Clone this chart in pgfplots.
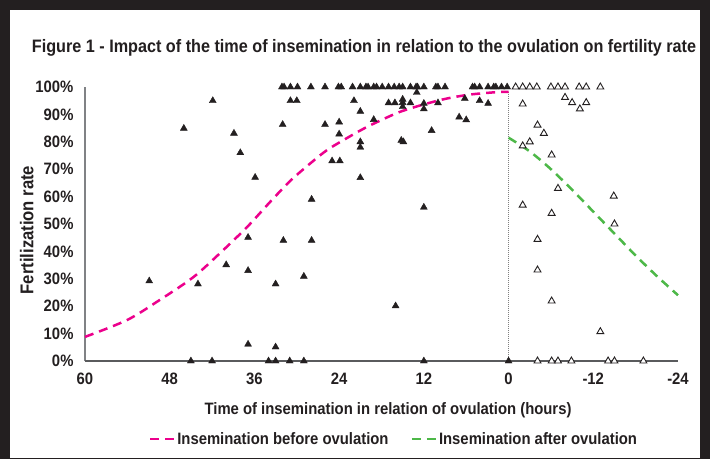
\documentclass[border=0pt]{standalone}
\usepackage{fontspec}
\setmainfont{Liberation Sans}[FakeStretch=0.9]
\usepackage{pgfplots}
\pgfplotsset{compat=1.18}
\definecolor{framec}{HTML}{231F20}
\definecolor{pinkc}{HTML}{EC008C}
\definecolor{greenc}{HTML}{4DB848}
\definecolor{axisgray}{HTML}{808285}

\begin{document}
\begin{tikzpicture}
\fill[framec] (0pt,0pt) rectangle (710pt,459pt);
\fill[white] (10pt,1pt) rectangle (700pt,449pt);
\node[font=\fontsize{18}{20}\selectfont\bfseries, text=framec] at (364pt,411pt)
  {Figure 1 - Impact of the time of insemination in relation to the ovulation on fertility rate};
\begin{axis}[
    at={(85pt,98pt)}, anchor=south west,
    scale only axis, width=593pt, height=274pt,
    xmin=-24, xmax=60, ymin=0, ymax=100,
    x dir=reverse,
    xtick={-24,-12,0,12,24,36,48,60},
    ytick={0,10,...,100},
    major tick length=0pt,
    axis line style={draw=none},
    clip=false,
    /pgf/number format/assume math mode=true,
    tick label style={font=\fontsize{16.5}{18}\selectfont\bfseries, text=framec},
    yticklabel={\pgfmathprintnumber{\tick}\%},
    xticklabel style={yshift=-8pt},
    yticklabel style={xshift=-8pt},
    xlabel={Time of insemination in relation of ovulation (hours)},
    ylabel={Fertilization rate},
    label style={font=\fontsize{16.5}{18}\selectfont\bfseries, text=framec},
    xlabel style={at={(axis description cs:0.511,-0.179)}, anchor=center},
    ylabel style={at={(axis description cs:-0.098,0.478)}, anchor=center,
        font=\fontsize{18.5}{20}\selectfont\bfseries},
    legend style={at={(axis description cs:0.521,-0.285)}, anchor=center,
        draw=none, fill=none, legend columns=2,
        font=\fontsize{16.5}{18}\selectfont\bfseries, text=framec,
        /tikz/every even column/.append style={column sep=20pt}},
    legend image code/.code={\draw[#1] (0pt,0pt) -- (24pt,0pt);},
]
% axis lines and reference line at ovulation
\draw[axisgray, line width=1.6pt] (axis cs:60,0) -- (axis cs:60,100);
\draw[axisgray!70!black, line width=1.3pt] (axis cs:60,0) -- (axis cs:-24,0);
\addplot[gray, densely dotted, line width=1pt, forget plot] coordinates {(0,0) (0,98.5)};

% fitted curves
\addplot[pinkc, line width=2.5pt, dash pattern=on 9pt off 6pt, smooth] coordinates {
    (60,8.8) (54,15) (49.4,22.3) (44.7,30.5) (40.9,39.3) (37,49) (33.8,58)
    (30.9,65.8) (28,72.3) (25.7,77) (23,81.2) (20,85.5) (16,90.3) (14,92.1)
    (11.8,93.8) (8.9,95.7) (5.6,97.2) (1.8,98.1) (0,98.2)
};
\addlegendentry{Insemination before ovulation}
\addplot[greenc, line width=2.5pt, dash pattern=on 9pt off 6pt, smooth] coordinates {
    (0,81.5) (-3,76.5) (-6,70) (-9,62.5) (-12,54.5) (-15,46.5) (-18,38.5) (-21,31) (-24,24)
};
\addlegendentry{Insemination after ovulation}

% inseminations before ovulation
\addplot[only marks, mark=triangle*, mark size=4pt,
    mark options={fill=framec, draw=framec}, forget plot] coordinates {
    (32.1,100) (31.8,100) (30.9,100) (29.9,100) (28.0,100) (26.0,100) (24.1,100)
    (23.7,100) (22.1,100) (21.0,100) (20.2,100) (19.9,100) (19.1,100) (18.7,100)
    (17.9,100) (17.0,100) (16.2,100) (15.5,100) (15.0,100) (13.9,100) (13.1,100)
    (12.9,100) (12.0,100) (10.3,100) (10.0,100) (9.0,100) (5.1,100) (4.8,100)
    (4.1,100) (2.9,100) (2.1,100) (1.8,100) (1.0,100) (0.2,100)
    (46.0,84.9) (41.9,95.0) (38.9,83.1) (38.0,76.0) (35.9,67.0)
    (50.9,29.2) (44.0,28.1) (40.0,35.1) (36.9,45.1) (36.9,33.0) (33.0,28.1)
    (36.9,6.1) (33.0,5.1)
    (27.9,59.0) (12.0,56.1) (31.9,44.0) (27.9,44.0) (29.0,30.9) (16.0,20.1)
    (21.0,80.0) (21.0,78.0) (15.2,80.5) (14.9,80.0) (25.0,73.0) (23.9,73.0) (21.0,66.9)
    (30.9,95.0) (30.0,95.0) (21.9,95.0) (17.0,94.2) (16.1,94.2) (15.0,95.5)
    (15.0,94.3) (15.0,92.8) (13.9,94.2) (13.0,98.0) (12.0,94.0) (12.0,92.0)
    (10.0,94.2) (6.2,95.8) (4.1,95.0) (2.9,94.0)
    (7.0,89.0) (6.0,88.0) (10.9,84.1)
    (21.0,91.1) (19.1,88.1) (32.0,86.3) (26.0,86.3) (24.0,87.2) (24.0,82.8)
    (45,0) (42,0) (34,0) (33,0) (31,0) (29,0) (12,0) (0,0)
};
% inseminations after ovulation
\addplot[only marks, mark=triangle*, mark size=4pt,
    mark options={fill=white, draw=framec, line width=0.9pt}, forget plot] coordinates {
    (-1,100) (-2,100) (-3,100) (-4,100) (-6,100) (-7,100) (-8,100) (-10,100) (-11,100) (-13,100)
    (-2,93.8) (-8,96.2) (-9,94.3) (-10.1,92) (-11,94.3)
    (-4.1,86.1) (-5,83.1) (-3,80) (-2,78.5) (-6.1,75.2) (-7,63) (-14.9,60.2)
    (-2,56.9) (-6.1,53.9) (-15,50) (-4.1,44.4) (-4.1,33.2) (-6.1,21.9) (-13,10.7)
    (-4.1,0) (-6.1,0) (-7,0) (-8.9,0) (-14.1,0) (-15,0) (-19.1,0)
};
\end{axis}
\end{tikzpicture}
\end{document}
